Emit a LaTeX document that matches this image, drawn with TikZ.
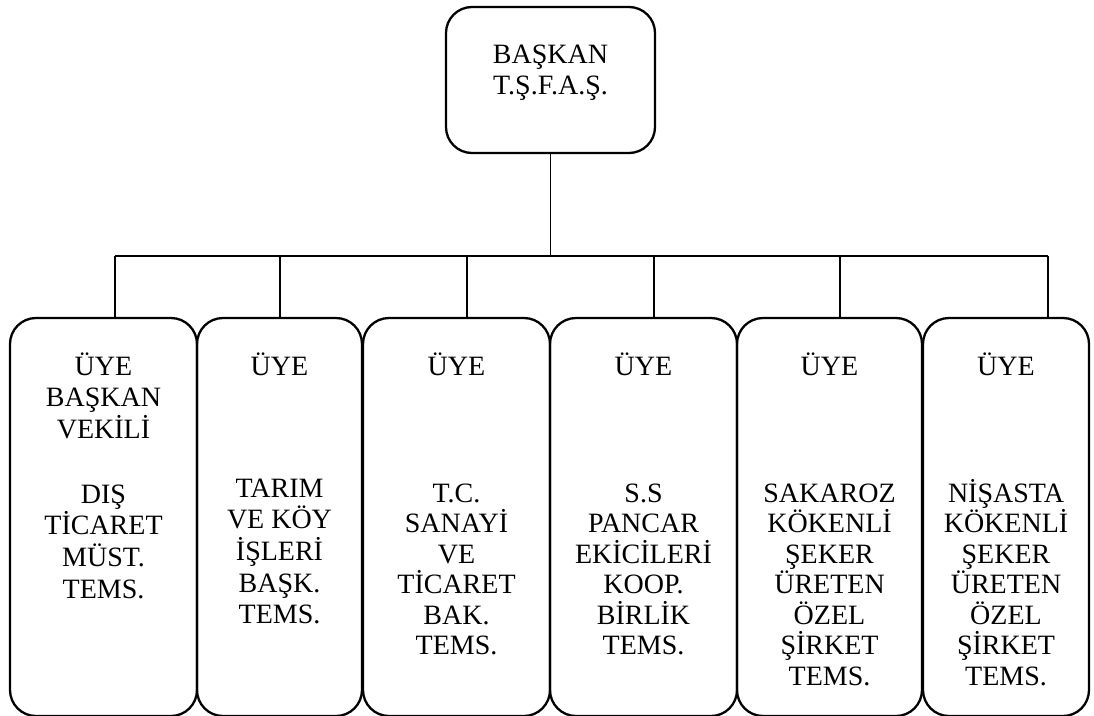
\documentclass[tikz,border=0pt]{standalone}
\usepackage{fontspec}
\setmainfont{Liberation Serif}
\begin{document}
\begin{tikzpicture}[x=1pt,y=-1pt,
  box/.style={draw, line width=2.3pt, rounded corners=26pt, inner sep=0pt},
  lbl/.style={align=center, inner sep=0pt, anchor=base},
  link/.style={line width=1.7pt}]
\useasboundingbox (0,0) rectangle (1094,715);

% top box
\node[box, minimum width=209pt, minimum height=146pt] (top) at (550.5,80) {};
% (base anchor = baseline of the last line)
\node[lbl, font=\fontsize{28}{31}\selectfont] (ttop) at (550.5,94) {BAŞKAN\\T.Ş.F.A.Ş.};

% member boxes (their bottoms run to the lower edge of the picture)
\node[box, minimum width=187pt, minimum height=398pt] (b1) at (103.5,517) {};
\node[box, minimum width=165pt, minimum height=398pt] (b2) at (279.5,517) {};
\node[box, minimum width=187pt, minimum height=398pt] (b3) at (456.5,517) {};
\node[box, minimum width=187pt, minimum height=398pt] (b4) at (643.5,517) {};
\node[box, minimum width=185pt, minimum height=398pt] (b5) at (829.5,517) {};
\node[box, minimum width=166pt, minimum height=398pt] (b6) at (1006,517) {};

% labels
\node[lbl, font=\fontsize{28}{31.7}\selectfont] (t1) at (103.5,598.1)
  {ÜYE\\BAŞKAN\\VEKİLİ\\[32.9pt]DIŞ\\TİCARET\\MÜST.\\TEMS.};
\node[lbl, font=\fontsize{28}{31.7}\selectfont] (t2) at (279.5,623.8)
  {ÜYE\\[90.3pt]TARIM\\VE KÖY\\İŞLERİ\\BAŞK.\\TEMS.};
\node[lbl, font=\fontsize{28}{30.5}\selectfont] (t3) at (456.5,654.5)
  {ÜYE\\[96.5pt]T.C.\\SANAYİ\\VE\\TİCARET\\BAK.\\TEMS.};
\node[lbl, font=\fontsize{28}{30.5}\selectfont] (t4) at (643.5,654.5)
  {ÜYE\\[96.5pt]S.S\\PANCAR\\EKİCİLERİ\\KOOP.\\BİRLİK\\TEMS.};
\node[lbl, font=\fontsize{28}{30.5}\selectfont] (t5) at (829.5,685)
  {ÜYE\\[96.5pt]SAKAROZ\\KÖKENLİ\\ŞEKER\\ÜRETEN\\ÖZEL\\ŞİRKET\\TEMS.};
\node[lbl, font=\fontsize{28}{30.5}\selectfont] (t6) at (1006,685)
  {ÜYE\\[96.5pt]NİŞASTA\\KÖKENLİ\\ŞEKER\\ÜRETEN\\ÖZEL\\ŞİRKET\\TEMS.};

% connectors
\coordinate (j1) at (115,256);
\coordinate (j2) at (280,256);
\coordinate (j3) at (467,256);
\coordinate (j4) at (654,256);
\coordinate (j5) at (840,256);
\coordinate (j6) at (1048,256);
\draw[link] (top.south) -- (top.south |- j1);
\draw[link] (j1) -- (j6);
\draw[link] (j1) -- (j1 |- b1.north);
\draw[link] (j2) -- (j2 |- b2.north);
\draw[link] (j3) -- (j3 |- b3.north);
\draw[link] (j4) -- (j4 |- b4.north);
\draw[link] (j5) -- (j5 |- b5.north);
\draw[link] (j6) -- (j6 |- b6.north);
\end{tikzpicture}
\end{document}
